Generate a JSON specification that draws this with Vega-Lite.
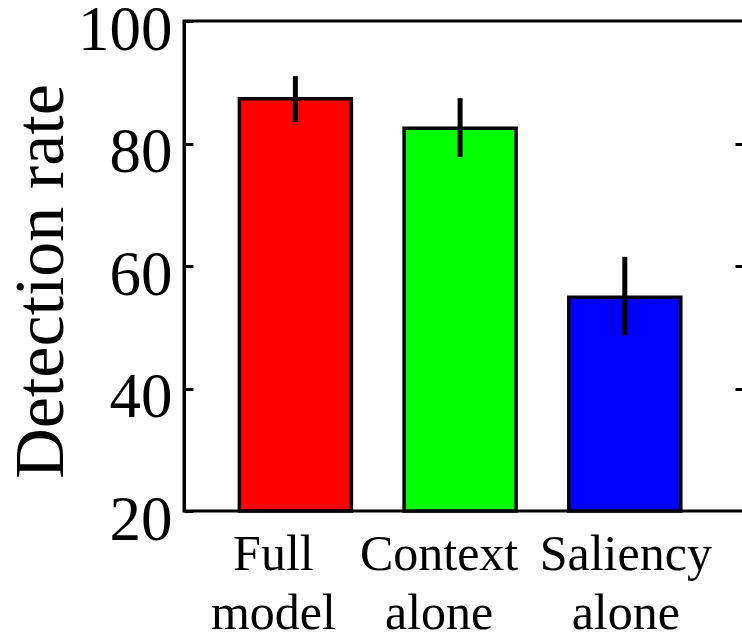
{
  "$schema": "https://vega.github.io/schema/vega-lite/v6.json",
  "width": 560,
  "height": 490,
  "autosize": {"type": "none"},
  "padding": {"left": 184, "top": 21, "right": 0, "bottom": 121},
  "background": "white",
  "config": {
    "view": {"stroke": "black", "strokeWidth": 3},
    "font": "Liberation Serif"
  },
  "data": {
    "values": [
      {"model": "Full|model", "rate": 87.3, "lo": 83.5, "hi": 91.0, "color": "#FF0000"},
      {"model": "Context|alone", "rate": 82.5, "lo": 77.8, "hi": 87.4, "color": "#00FF00"},
      {"model": "Saliency|alone", "rate": 54.9, "lo": 48.7, "hi": 61.5, "color": "#0000FF"}
    ]
  },
  "encoding": {
    "x": {
      "field": "model",
      "type": "nominal",
      "sort": null,
      "scale": {"paddingInner": 0.32, "paddingOuter": 0.36, "align": 0.467},
      "axis": {
        "title": null,
        "labelAngle": 0,
        "labelExpr": "split(datum.value, '|')",
        "labelFont": "Liberation Serif",
        "labelFontSize": 50,
        "labelLineHeight": 59,
        "labelColor": "black",
        "labelPadding": 18,
        "labelOffset": {
          "condition": [
            {"test": "datum.value == 'Full|model'", "value": -22},
            {"test": "datum.value == 'Context|alone'", "value": -21}
          ],
          "value": 1
        },
        "ticks": false,
        "domain": false
      }
    }
  },
  "layer": [
    {
      "mark": {"type": "bar", "stroke": "black", "strokeWidth": 3.5},
      "encoding": {
        "y": {
          "field": "rate",
          "type": "quantitative",
          "scale": {"domain": [20, 100], "zero": false, "nice": false},
          "axis": {
            "orient": "left",
            "values": [20, 40, 60, 80, 100],
            "title": "Detection rate",
            "titleFont": "Liberation Serif",
            "titleFontSize": 70,
            "titleFontWeight": "normal",
            "titleColor": "black",
            "titleAngle": -90,
            "titleX": -122,
            "titleY": 260,
            "titleAlign": "center",
            "titleBaseline": "alphabetic",
            "labelFont": "Liberation Serif",
            "labelFontSize": 63,
            "labelColor": "black",
            "labelPadding": 21,
            "labelOffset": 9,
            "labelBaseline": "middle",
            "tickSize": -9,
            "tickWidth": 3,
            "tickColor": "black",
            "domain": true,
            "domainColor": "black",
            "domainWidth": 3,
            "grid": false
          }
        },
        "y2": {"datum": 20},
        "color": {"field": "color", "type": "nominal", "scale": null, "legend": null}
      }
    },
    {
      "mark": {"type": "rule", "strokeWidth": 5, "color": "black"},
      "encoding": {
        "y": {
          "field": "lo",
          "type": "quantitative",
          "axis": {
            "orient": "right",
            "values": [40, 60, 80],
            "title": null,
            "labels": false,
            "domain": false,
            "tickSize": -9,
            "tickWidth": 3,
            "tickColor": "black",
            "grid": false
          }
        },
        "y2": {"field": "hi"}
      }
    }
  ],
  "resolve": {"axis": {"y": "independent"}}
}
